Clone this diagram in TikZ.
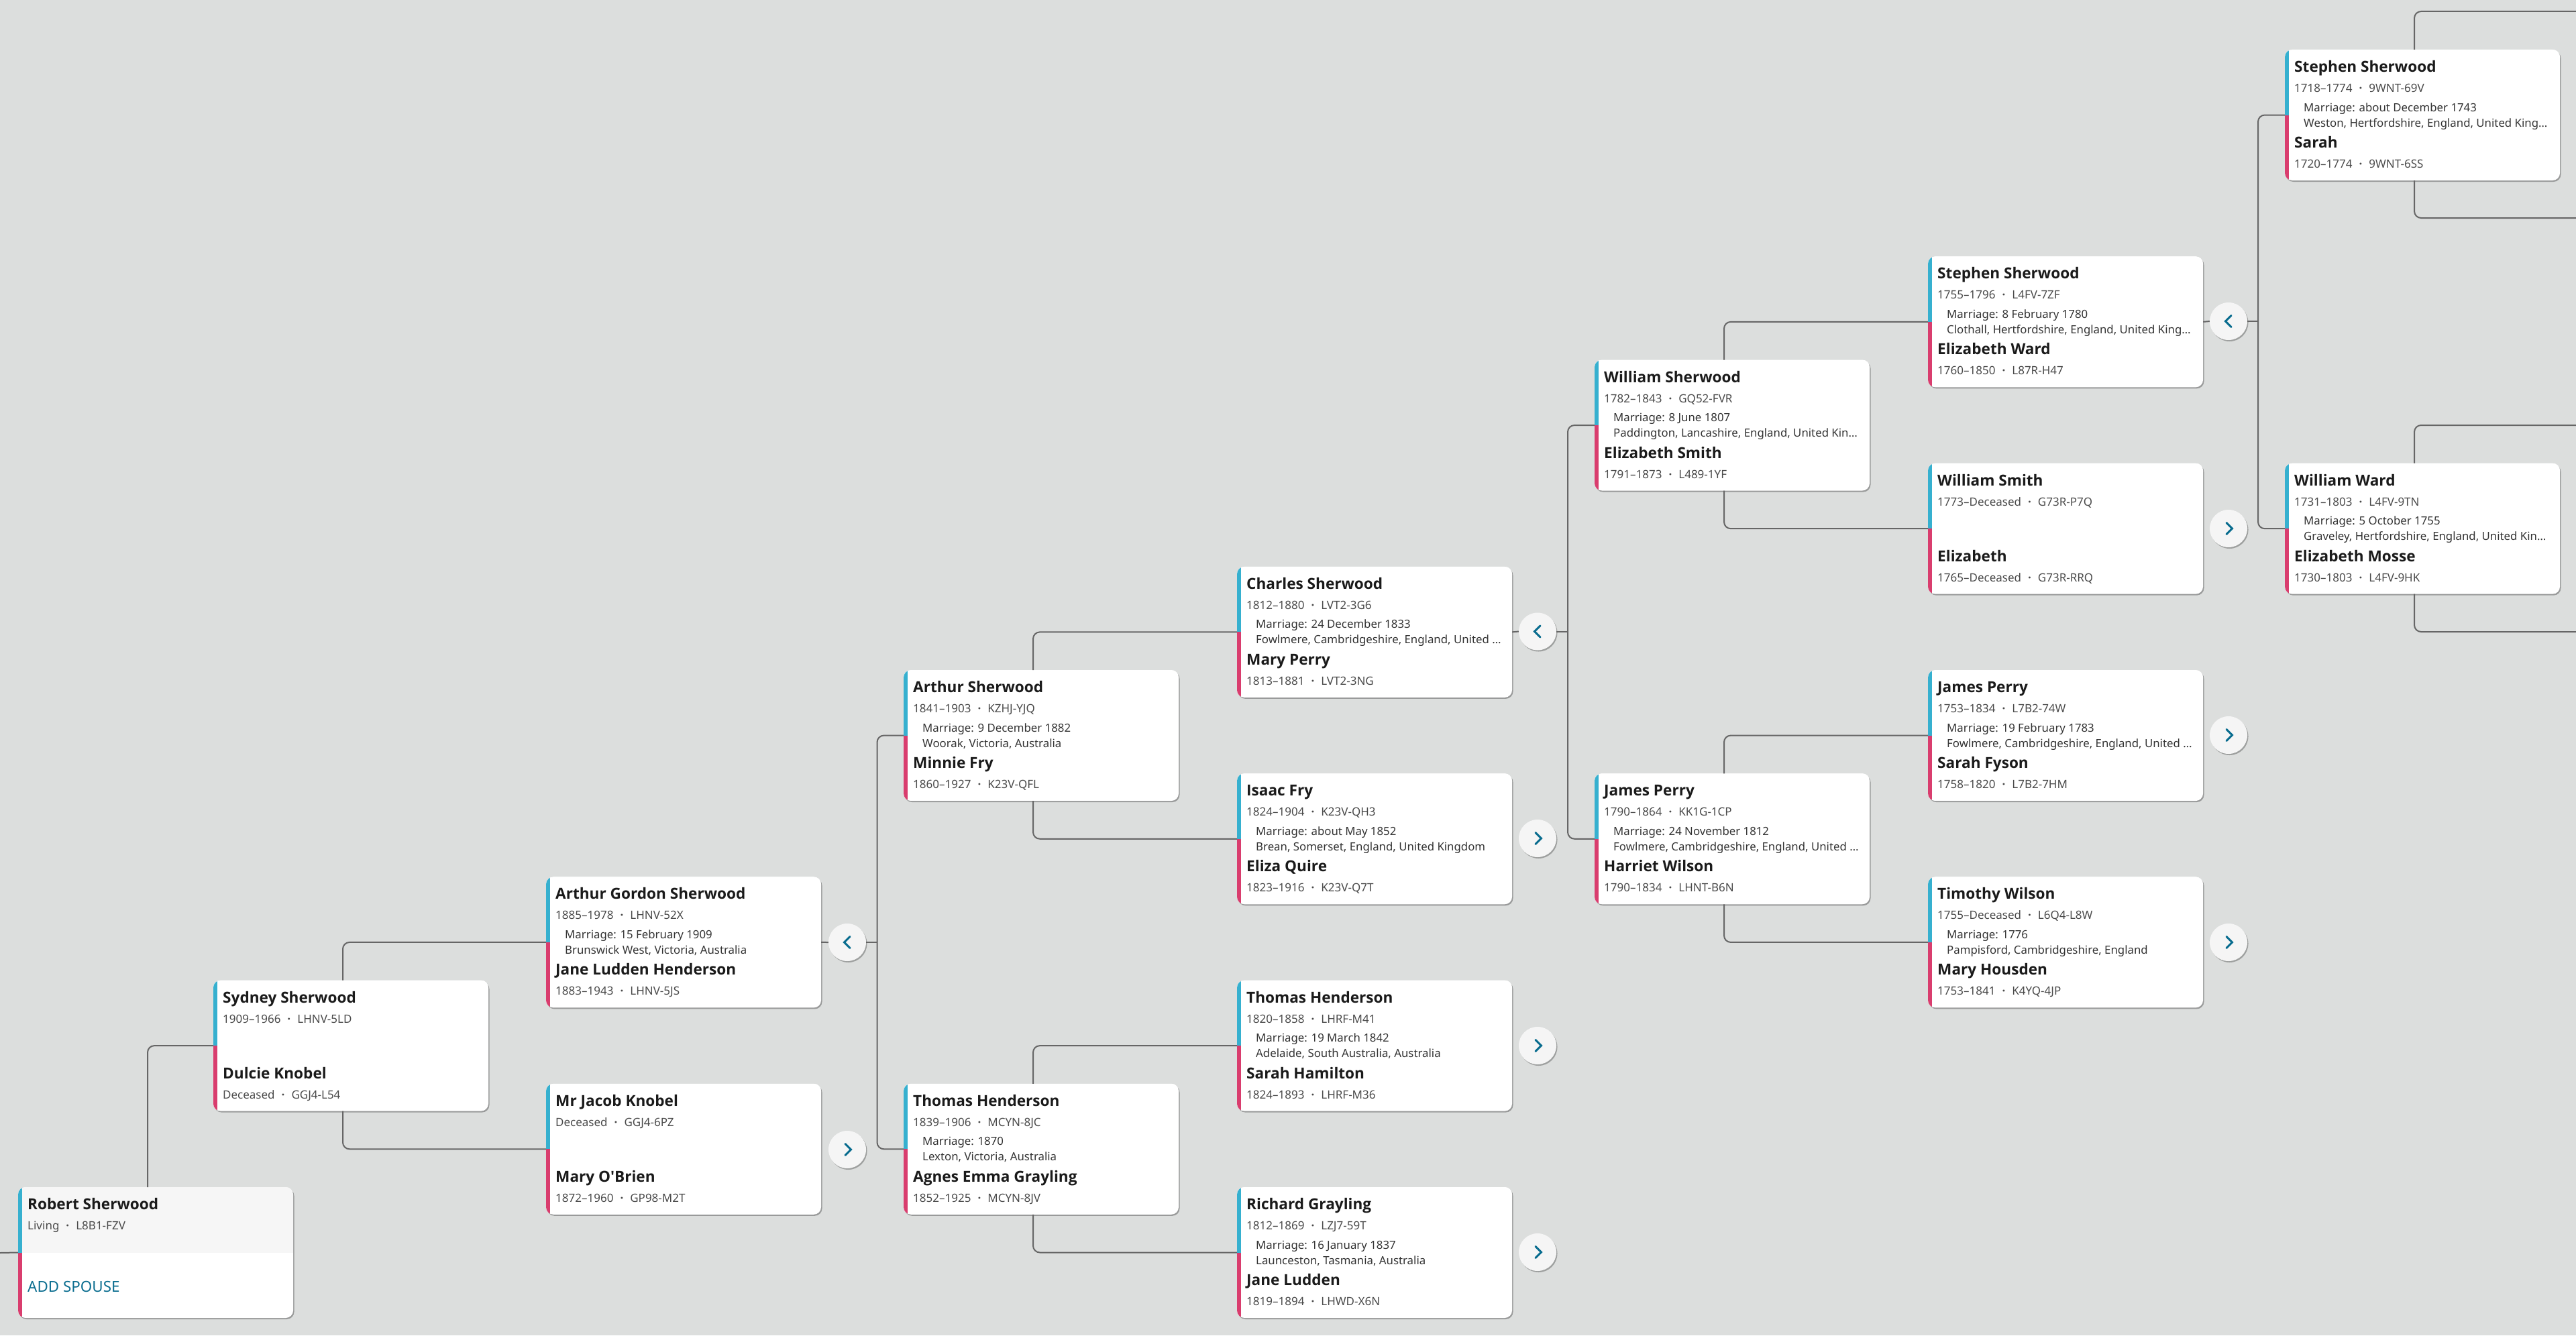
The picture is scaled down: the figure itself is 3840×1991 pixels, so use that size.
\documentclass[tikz,border=0pt]{standalone}
\usepackage{fontspec}
\setmainfont{Noto Sans}
\newfontfamily\boldface{Open Sans}
\usetikzlibrary{shadows}
\definecolor{bgc}{HTML}{DCDEDD}
\definecolor{blu}{HTML}{36B0CF}
\definecolor{pnk}{HTML}{D93D6E}
\definecolor{lnk}{HTML}{666666}
\definecolor{chevc}{HTML}{0A6D8F}
\definecolor{nmc}{HTML}{1A1A1A}
\definecolor{dtc}{HTML}{4A4A4A}
\definecolor{mrc}{HTML}{333333}
\definecolor{btnc}{HTML}{F5F5F5}
\definecolor{topc}{HTML}{F6F6F6}
\tikzset{
  cardbox/.style={minimum width=410pt,minimum height=195pt,inner sep=0pt,rounded corners=11pt,fill=white,
    drop shadow={shadow xshift=1.5pt,shadow yshift=-2pt,opacity=.3,fill=black}},
  pname/.style={anchor=base west,inner sep=0pt,text=nmc,font=\boldface\bfseries\fontsize{22.6}{27}\selectfont},
  pdet/.style={anchor=base west,inner sep=0pt,text=dtc,font=\fontsize{17}{20}\selectfont},
  pmar/.style={anchor=base west,inner sep=0pt,text=mrc,font=\fontsize{16.8}{20}\selectfont},
  addsp/.style={anchor=base west,inner sep=0pt,text=chevc,font=\fontsize{22.4}{27}\selectfont},
  conn/.style={draw=lnk,line width=2pt,rounded corners=10pt},
  roundbtn/.style={circle,minimum size=56pt,inner sep=0pt,fill=btnc,
    drop shadow={shadow xshift=1.5pt,shadow yshift=-2pt,opacity=.28,fill=black}},
  chev/.style={draw=chevc,line width=3pt,line cap=round,line join=miter},
}
\newcommand{\dt}[2]{#1\hspace{10pt}{\boldface\bfseries·}\hspace{10pt}#2}
\def\cardtop{white}
\newcommand{\card}[9]{%
  \pgfmathsetmacro{\cx}{#2}\pgfmathsetmacro{\cy}{74+#3*154.18}
  \node[cardbox] (#1) at (\cx+205,\cy+97.5) {};
  \begin{scope}
    \clip[rounded corners=11pt] (\cx,\cy) rectangle (\cx+410,\cy+195);
    \fill[\cardtop] (\cx,\cy) rectangle (\cx+410,\cy+97.5);
    \fill[blu] (\cx,\cy) rectangle (\cx+6,\cy+97.5);
    \fill[pnk] (\cx,\cy+97.5) rectangle (\cx+6,\cy+195);
  \end{scope}
  \coordinate (#1-t) at (\cx+193,\cy);
  \coordinate (#1-b) at (\cx+193,\cy+195);
  \node[pname] (#1-n1) at (\cx+14,\cy+33.5) {#4};
  \node[pdet] (#1-d1) at (\cx+14,\cy+63.5) {#5};
  \if\relax\detokenize{#6}\relax\else
    \node[pmar] (#1-m1) at (\cx+28,\cy+92) {#6};
    \node[pmar] (#1-m2) at (\cx+28,\cy+115) {#7};
  \fi
  \if\relax\detokenize{#8}\relax\else
    \node[pname] (#1-n2) at (\cx+14,\cy+146.5) {#8};
    \node[pdet] (#1-d2) at (\cx+14,\cy+176.5) {#9};
  \fi
}
\newcommand{\btnleft}[3]{%
  \node[roundbtn] (#1) at (#2,#3) {};
  \draw[chev] (#2+4,#3-8.5) -- (#2-4.5,#3) -- (#2+4,#3+8.5);
}
\newcommand{\btnright}[3]{%
  \node[roundbtn] (#1) at (#2,#3) {};
  \draw[chev] (#2-3,#3-8.5) -- (#2+5.5,#3) -- (#2-3,#3+8.5);
}
\begin{document}
\begin{tikzpicture}[x=1pt,y=-1pt]
\fill[bgc] (0,0) rectangle (3840,1991);
\useasboundingbox (0,0) rectangle (3840,1991);

% cards
{\def\cardtop{topc}
\card{robert}{27}{11}{Robert Sherwood}{\dt{Living}{L8B1-FZV}}{}{}{}{}}
\node[addsp] (robert-add) at (41,1926) {ADD SPOUSE};
\card{sydney}{318}{9}{Sydney Sherwood}{\dt{1909–1966}{LHNV-5LD}}{}{}{Dulcie Knobel}{\dt{Deceased}{GGJ4-L54}}
\card{gordon}{814}{8}{Arthur Gordon Sherwood}{\dt{1885–1978}{LHNV-52X}}{Marriage: 15 February 1909}{Brunswick West, Victoria, Australia}{Jane Ludden Henderson}{\dt{1883–1943}{LHNV-5JS}}
\card{jacob}{814}{10}{Mr Jacob Knobel}{\dt{Deceased}{GGJ4-6PZ}}{}{}{Mary O'Brien}{\dt{1872–1960}{GP98-M2T}}
\card{arthur}{1347}{6}{Arthur Sherwood}{\dt{1841–1903}{KZHJ-YJQ}}{Marriage: 9 December 1882}{Woorak, Victoria, Australia}{Minnie Fry}{\dt{1860–1927}{K23V-QFL}}
\card{thomas}{1347}{10}{Thomas Henderson}{\dt{1839–1906}{MCYN-8JC}}{Marriage: 1870}{Lexton, Victoria, Australia}{Agnes Emma Grayling}{\dt{1852–1925}{MCYN-8JV}}
\card{charles}{1844}{5}{Charles Sherwood}{\dt{1812–1880}{LVT2-3G6}}{Marriage: 24 December 1833}{Fowlmere, Cambridgeshire, England, United …}{Mary Perry}{\dt{1813–1881}{LVT2-3NG}}
\card{isaac}{1844}{7}{Isaac Fry}{\dt{1824–1904}{K23V-QH3}}{Marriage: about May 1852}{Brean, Somerset, England, United Kingdom}{Eliza Quire}{\dt{1823–1916}{K23V-Q7T}}
\card{thomash}{1844}{9}{Thomas Henderson}{\dt{1820–1858}{LHRF-M41}}{Marriage: 19 March 1842}{Adelaide, South Australia, Australia}{Sarah Hamilton}{\dt{1824–1893}{LHRF-M36}}
\card{richard}{1844}{11}{Richard Grayling}{\dt{1812–1869}{LZJ7-59T}}{Marriage: 16 January 1837}{Launceston, Tasmania, Australia}{Jane Ludden}{\dt{1819–1894}{LHWD-X6N}}
\card{william}{2377}{3}{William Sherwood}{\dt{1782–1843}{GQ52-FVR}}{Marriage: 8 June 1807}{Paddington, Lancashire, England, United Kin…}{Elizabeth Smith}{\dt{1791–1873}{L489-1YF}}
\card{james}{2377}{7}{James Perry}{\dt{1790–1864}{KK1G-1CP}}{Marriage: 24 November 1812}{Fowlmere, Cambridgeshire, England, United …}{Harriet Wilson}{\dt{1790–1834}{LHNT-B6N}}
\card{stephen}{2874}{2}{Stephen Sherwood}{\dt{1755–1796}{L4FV-7ZF}}{Marriage: 8 February 1780}{Clothall, Hertfordshire, England, United King…}{Elizabeth Ward}{\dt{1760–1850}{L87R-H47}}
\card{wsmith}{2874}{4}{William Smith}{\dt{1773–Deceased}{G73R-P7Q}}{}{}{Elizabeth}{\dt{1765–Deceased}{G73R-RRQ}}
\card{jperry}{2874}{6}{James Perry}{\dt{1753–1834}{L7B2-74W}}{Marriage: 19 February 1783}{Fowlmere, Cambridgeshire, England, United …}{Sarah Fyson}{\dt{1758–1820}{L7B2-7HM}}
\card{timothy}{2874}{8}{Timothy Wilson}{\dt{1755–Deceased}{L6Q4-L8W}}{Marriage: 1776}{Pampisford, Cambridgeshire, England}{Mary Housden}{\dt{1753–1841}{K4YQ-4JP}}
\card{sarah}{3406}{0}{Stephen Sherwood}{\dt{1718–1774}{9WNT-69V}}{Marriage: about December 1743}{Weston, Hertfordshire, England, United King…}{Sarah}{\dt{1720–1774}{9WNT-6SS}}
\card{ward}{3406}{4}{William Ward}{\dt{1731–1803}{L4FV-9TN}}{Marriage: 5 October 1755}{Graveley, Hertfordshire, England, United Kin…}{Elizabeth Mosse}{\dt{1730–1803}{L4FV-9HK}}

% free ends and junctions
\coordinate (stub) at (0,1868);
\coordinate (j1) at (1307.5,1405);
\coordinate (j2) at (2337,941.5);
\coordinate (j3) at (3366,479);
\coordinate (off1) at (3840,17);
\coordinate (off2) at (3840,325);
\coordinate (off3) at (3840,634);
\coordinate (off4) at (3840,942);

% connectors
\draw[conn] (stub) -- (robert.west);
\draw[conn] (robert-t) |- (sydney.west);
\draw[conn] (sydney-t) |- (gordon.west);
\draw[conn] (sydney-b) |- (jacob.west);
\draw[conn] (arthur.west) -| (j1) |- (thomas.west);
\draw[conn] (arthur-t) |- (charles.west);
\draw[conn] (arthur-b) |- (isaac.west);
\draw[conn] (thomas-t) |- (thomash.west);
\draw[conn] (thomas-b) |- (richard.west);
\draw[conn] (william.west) -| (j2) |- (james.west);
\draw[conn] (william-t) |- (stephen.west);
\draw[conn] (william-b) |- (wsmith.west);
\draw[conn] (james-t) |- (jperry.west);
\draw[conn] (james-b) |- (timothy.west);
\draw[conn] (sarah.west) -| (j3) |- (ward.west);
\draw[conn] (sarah-t) |- (off1);
\draw[conn] (sarah-b) |- (off2);
\draw[conn] (ward-t) |- (off3);
\draw[conn] (ward-b) |- (off4);

% expand and collapse buttons
\btnleft{b-gordon}{1263}{1405}
\btnright{b-jacob}{1263}{1714}
\btnleft{b-charles}{2292}{941.5}
\btnright{b-isaac}{2292}{1250}
\btnright{b-thomash}{2292}{1559}
\btnright{b-richard}{2292}{1867}
\btnleft{b-stephen}{3322}{479}
\btnright{b-wsmith}{3322}{788}
\btnright{b-jperry}{3322}{1096}
\btnright{b-timothy}{3322}{1405}
\draw[conn] (gordon.east) -- (b-gordon.west);
\draw[conn] (b-gordon.east) -- (j1);
\draw[conn] (charles.east) -- (b-charles.west);
\draw[conn] (b-charles.east) -- (j2);
\draw[conn] (stephen.east) -- (b-stephen.west);
\draw[conn] (b-stephen.east) -- (j3);
\end{tikzpicture}
\end{document}
